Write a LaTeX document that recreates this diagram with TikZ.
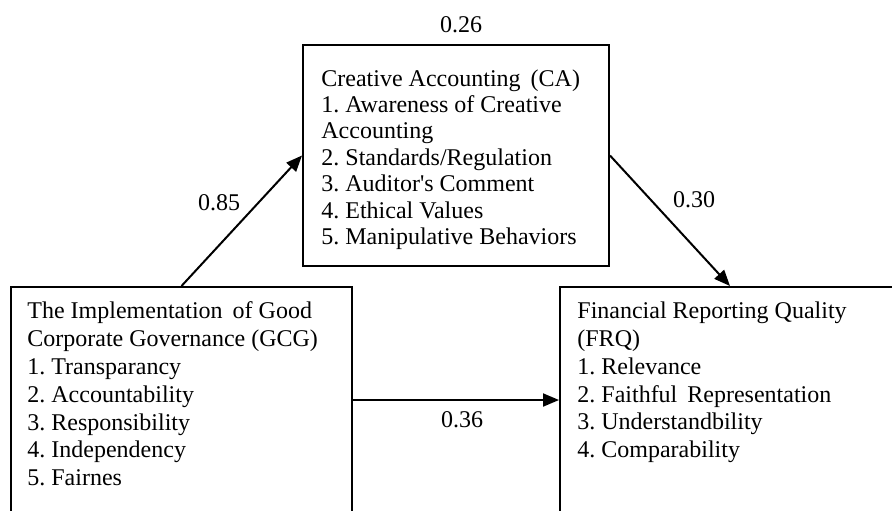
\documentclass[tikz,border=0pt]{standalone}
\usepackage{fontspec}
\setmainfont{Liberation Serif}
\usetikzlibrary{arrows.meta,calc}
\frenchspacing
\begin{document}
\begin{tikzpicture}[x=0.5pt,y=-0.5pt,
  box/.style={draw,line width=1pt,rectangle,inner sep=0pt},
  body/.style={inner sep=0pt,align=left,anchor=north west},
  lbl/.style={inner sep=0pt,font=\fontsize{12}{14}\selectfont},
  arr/.style={line width=1pt,-{Triangle[length=8pt,width=6.5pt]}}]
  \useasboundingbox (0,0) rectangle (892,510);
  \clip (0,0) rectangle (892,510);

  % variable boxes (the two lower ones run past the bottom and right edges)
  \node[box,minimum width=153pt,minimum height=110.5pt] (ca) at (456,155.5) {};
  \node[box,minimum width=170.5pt,minimum height=113pt] (gcg) at (181.5,400) {};
  \node[box,minimum width=170pt,minimum height=113pt] (frq) at (730,400) {};

  % box contents
  \node[body,font=\fontsize{12}{13.2}\selectfont] (catext) at ($(ca.north west)+(19,25)$)
    {Creative Accounting\ \,(CA)\\
     1. Awareness of Creative\\
     Accounting\\
     2. Standards/Regulation\\
     3. Auditor\textquotesingle s Comment\\
     4. Ethical Values\\
     5. Manipulative Behaviors};
  \node[body,font=\fontsize{12}{13.9}\selectfont] (gcgtext) at ($(gcg.north west)+(17,15.6)$)
    {The Implementation\ \,of Good\\
     Corporate Governance (GCG)\\
     1. Transparancy\\
     2. Accountability\\
     3. Responsibility\\
     4. Independency\\
     5. Fairnes};
  \node[body,font=\fontsize{12}{13.9}\selectfont] (frqtext) at ($(frq.north west)+(18,15.6)$)
    {Financial Reporting Quality\\
     (FRQ)\\
     1. Relevance\\
     2. Faithful\ \,Representation\\
     3. Understandbility\\
     4. Comparability};

  % path coefficients
  \node[lbl] (r2) at (461,25) {0.26};
  \node[lbl] (p1) at (219,203) {0.85};
  \node[lbl] (p2) at (694,200) {0.30};
  \node[lbl] (p3) at (462,420) {0.36};

  % paths
  \draw[arr] (gcg.north) -- (ca.west);
  \draw[arr] (ca.east) -- (frq.north);
  \draw[arr] (gcg.east) -- (frq.west);
\end{tikzpicture}
\end{document}
